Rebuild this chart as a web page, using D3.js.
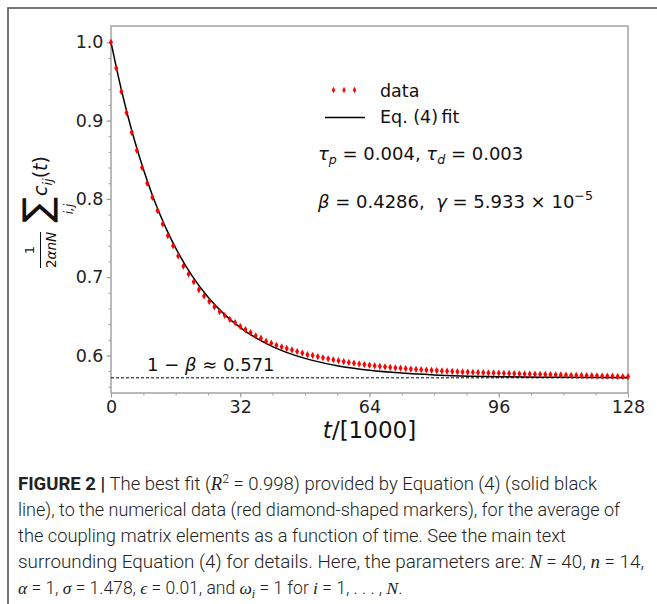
<!DOCTYPE html>
<html>
<head>
<meta charset="utf-8">
<script src="https://cdn.jsdelivr.net/npm/d3@7"></script>
<style>
  body { margin: 0; background: #fff; }
  svg { display: block; }
</style>
</head>
<body>
<div id="figure"></div>
<script>
//time of every data marker in units of 1000 steps
const markerTimes = [
  0, 1.28, 2.56, 3.84, 5.12, 6.4, 7.68, 8.96, 10.24, 11.52,
  12.8, 14.08, 15.36, 16.64, 17.92, 19.2, 20.48, 21.76, 23.04, 24.32,
  25.6, 26.88, 28.16, 29.44, 30.72, 32, 33.28, 34.56, 35.84, 37.12,
  38.4, 39.68, 40.96, 42.24, 43.52, 44.8, 46.08, 47.36, 48.64, 49.92,
  51.2, 52.48, 53.76, 55.04, 56.32, 57.6, 58.88, 60.16, 61.44, 62.72,
  64, 65.28, 66.56, 67.84, 69.12, 70.4, 71.68, 72.96, 74.24, 75.52,
  76.8, 78.08, 79.36, 80.64, 81.92, 83.2, 84.48, 85.76, 87.04, 88.32,
  89.6, 90.88, 92.16, 93.44, 94.72, 96, 97.28, 98.56, 99.84, 101.12,
  102.4, 103.68, 104.96, 106.24, 107.52, 108.8, 110.08, 111.36, 112.64, 113.92,
  115.2, 116.48, 117.76, 119.04, 120.32, 121.6, 122.88, 124.16, 125.44, 126.72,
  128
];
//average coupling (numerical data, red markers)
const markerValues = [
  1.000, 0.967, 0.937, 0.910, 0.885, 0.862, 0.840, 0.820, 0.802, 0.785,
  0.768, 0.753, 0.740, 0.727, 0.714, 0.704, 0.694, 0.684, 0.676, 0.669,
  0.662, 0.656, 0.651, 0.646, 0.642, 0.637, 0.633, 0.629, 0.625, 0.622,
  0.618, 0.6156, 0.613, 0.611, 0.609, 0.607, 0.605, 0.603, 0.601, 0.600,
  0.5985, 0.597, 0.5957, 0.5945, 0.5933, 0.5922, 0.5911, 0.5901, 0.5892, 0.5883,
  0.5875, 0.5867, 0.5861, 0.5854, 0.5848, 0.5842, 0.5837, 0.5832, 0.5826, 0.5823,
  0.5818, 0.5814, 0.5810, 0.5806, 0.5802, 0.5799, 0.5795, 0.5792, 0.5789, 0.5787,
  0.5785, 0.5783, 0.5780, 0.5778, 0.5776, 0.5774, 0.5772, 0.5770, 0.5768, 0.5766,
  0.5764, 0.5762, 0.5761, 0.5758, 0.5757, 0.5755, 0.5753, 0.5751, 0.5750, 0.5747,
  0.5746, 0.5745, 0.5742, 0.5741, 0.5740, 0.5737, 0.5736, 0.5735, 0.5732, 0.5731,
  0.5730
];
//Eq. (4) fit (black line)
const fitTimes = [0, 2, 4, 6, 8, 10, 12, 14, 16, 20, 24, 28, 32, 36, 40, 48, 56, 64, 72, 80, 96, 112, 128];
const fitValues = [1.0, 0.9520, 0.9094, 0.8716, 0.8380, 0.8082, 0.7817, 0.7582, 0.7373, 0.7022,
  0.6746, 0.6528, 0.6356, 0.6220, 0.6113, 0.5962, 0.5869, 0.5810, 0.5774, 0.5751, 0.5728, 0.5720, 0.5716];
//asymptote 1 - beta
const asymptote = 0.5714;

const xTicks = [0, 32, 64, 96, 128];
const yTicks = [0.6, 0.7, 0.8, 0.9, 1.0];

//caption, one entry per line: [text, style]
const captionLines = [
  [['FIGURE 2 |', 'b'], [' The best fit (', ''], ['R', 'i'], ['2', 'sup'], [' = 0.998) provided by Equation (4) (solid black', '']],
  [['line), to the numerical data (red diamond-shaped markers), for the average of', '']],
  [['the coupling matrix elements as a function of time. See the main text', '']],
  [['surrounding Equation (4) for details. Here, the parameters are: ', ''], ['N', 'i'], [' = 40, ', ''], ['n', 'i'], [' = 14,', '']],
  [['α', 'i'], [' = 1, ', ''], ['σ', 'i'], [' = 1.478, ', ''], ['ϵ', 'i'], [' = 0.01, and ', ''], ['ω', 'i'], ['i', 'sub'], [' = 1 for ', ''], ['i', 'i'], [' = 1, . . . , ', ''], ['N', 'i'], ['.', '']]
];
const captionWidths = [579, 602, 548, 626, null];

const svgSize = {width: 657, height: 604};
const plot = {left: 111, right: 628, top: 26, bottom: 393};
const mplFont = '"DejaVu Sans", sans-serif';

const svg = d3.select('#figure').append('svg')
  .attr('width', svgSize.width)
  .attr('height', svgSize.height);

//white background and the outer figure frame
svg.append('rect')
  .attr('width', svgSize.width)
  .attr('height', svgSize.height)
  .attr('fill', 'white');
svg.append('rect')
  .attr('x', 8).attr('y', 8)
  .attr('width', 800).attr('height', 800)
  .attr('fill', 'none')
  .attr('stroke', '#555')
  .attr('stroke-width', 1.6);

//scales
const x = d3.scaleLinear().domain([0, 128]).range([plot.left, plot.right]);
const y = d3.scaleLinear().domain([0.552, 1.0208]).range([plot.bottom, plot.top]);

//axes: minor ticks first, then major ticks with labels
const minorX = svg.append('g')
  .attr('transform', `translate(0,${plot.bottom})`)
  .call(d3.axisBottom(x).tickValues(d3.range(0, 129, 8)).tickSize(2.5).tickFormat(''));
const minorY = svg.append('g')
  .attr('transform', `translate(${plot.left},0)`)
  .call(d3.axisLeft(y).tickValues(d3.range(0.56, 1.01, 0.02)).tickSize(2.5).tickFormat(''));

const xAxis = svg.append('g')
  .attr('transform', `translate(0,${plot.bottom})`)
  .call(d3.axisBottom(x).tickValues(xTicks).tickSize(4.5).tickPadding(3));
const yAxis = svg.append('g')
  .attr('transform', `translate(${plot.left},0)`)
  .call(d3.axisLeft(y).tickValues(yTicks).tickSize(4.5).tickPadding(3).tickFormat(d3.format('.1f')));

[minorX, minorY, xAxis, yAxis].forEach(a => {
  a.select('.domain').remove();
  a.selectAll('line').attr('stroke', '#999').attr('stroke-width', 1);
  a.selectAll('text')
    .style('font-family', mplFont)
    .style('font-size', '17.5px')
    .attr('fill', '#222');
});

//axes frame
svg.append('rect')
  .attr('x', plot.left).attr('y', plot.top)
  .attr('width', plot.right - plot.left)
  .attr('height', plot.bottom - plot.top)
  .attr('fill', 'none')
  .attr('stroke', '#a8a8a8')
  .attr('stroke-width', 1.6);

//dashed asymptote
svg.append('line')
  .attr('x1', x(0)).attr('x2', x(128))
  .attr('y1', y(asymptote)).attr('y2', y(asymptote))
  .attr('stroke', 'black')
  .attr('stroke-width', 1)
  .attr('stroke-dasharray', '3,2');

//fit line
const fitLine = d3.line()
  .x((d, i) => x(fitTimes[i]))
  .y(d => y(d))
  .curve(d3.curveMonotoneX);
svg.append('path')
  .datum(fitValues)
  .attr('d', fitLine)
  .attr('fill', 'none')
  .attr('stroke', 'black')
  .attr('stroke-width', 1.5);

//thin diamond marker
const diamond = (w, h) => `M0,${-h}L${w},0L0,${h}L${-w},0Z`;

svg.append('g')
  .selectAll('path')
  .data(markerValues)
  .join('path')
  .attr('d', diamond(2, 3.6))
  .attr('transform', (d, i) => `translate(${x(markerTimes[i])},${y(d)})`)
  .attr('fill', 'red');

//legend
const legend = svg.append('g');
legend.selectAll('path')
  .data([333.5, 344, 354.5])
  .join('path')
  .attr('d', diamond(1.7, 3.2))
  .attr('transform', d => `translate(${d},90)`)
  .attr('fill', 'red');
legend.append('line')
  .attr('x1', 325).attr('x2', 365)
  .attr('y1', 117.5).attr('y2', 117.5)
  .attr('stroke', 'black')
  .attr('stroke-width', 1.3);
legend.append('text')
  .attr('x', 380).attr('y', 97)
  .style('font-family', mplFont).style('font-size', '17.5px')
  .attr('fill', '#111')
  .text('data');
legend.append('text')
  .attr('x', 380).attr('y', 123)
  .style('font-family', mplFont).style('font-size', '17.5px')
  .attr('fill', '#111')
  .text('Eq. (4)\u2009fit');

//helper for mathtext-ish labels
function mathText(parent, xPos, yPos, parts, size) {
  const t = parent.append('text')
    .attr('x', xPos).attr('y', yPos)
    .style('font-family', mplFont)
    .style('font-size', size + 'px')
    .style('white-space', 'pre')
    .attr('fill', '#111');
  parts.forEach(p => {
    const s = t.append('tspan').text(p[0]);
    if (p[1] === 'i') s.style('font-style', 'italic');
    if (p[1] === 'sub') s.style('font-style', 'italic').style('font-size', (size * 0.7) + 'px').attr('dy', 4);
    if (p[1] === 'up') s.attr('dy', -4);
    if (p[1] === 'sup') s.style('font-size', (size * 0.7) + 'px').attr('dy', -8);
  });
  return t;
}

mathText(svg, 318, 160, [
  ['τ', 'i'], ['p', 'sub'], [' = 0.004, ', 'up'], ['τ', 'i'], ['d', 'sub'], [' = 0.003', 'up']
], 18);
mathText(svg, 318, 207.5, [
  ['β', 'i'], [' = 0.4286,\u00a0\u00a0', ''], ['γ', 'i'], [' = 5.933 × 10', ''], ['−5', 'sup']
], 18);
mathText(svg, 147, 370.5, [
  ['1 − ', ''], ['β', 'i'], [' ≈ 0.571', '']
], 18);

//x axis title
const xTitle = svg.append('text')
  .attr('x', (plot.left + plot.right) / 2).attr('y', 438)
  .attr('text-anchor', 'middle')
  .style('font-family', mplFont).style('font-size', '23px')
  .attr('fill', '#111');
xTitle.append('tspan').style('font-style', 'italic').text('t');
xTitle.append('tspan').text('/[1000]');

//y axis title, rotated: local x runs up the page, local y is the page x
const yTitle = svg.append('g').attr('transform', 'translate(0,210) rotate(-90)');
yTitle.append('text')
  .attr('x', -40).attr('y', 34)
  .attr('text-anchor', 'middle')
  .style('font-family', mplFont).style('font-size', '13px')
  .attr('fill', '#111')
  .text('1');
yTitle.append('line')
  .attr('x1', -58).attr('x2', -22)
  .attr('y1', 40.5).attr('y2', 40.5)
  .attr('stroke', '#111').attr('stroke-width', 1);
const denom = yTitle.append('text')
  .attr('x', -40).attr('y', 56)
  .attr('text-anchor', 'middle')
  .style('font-family', mplFont).style('font-size', '13.5px')
  .attr('fill', '#111');
denom.append('tspan').text('2');
denom.append('tspan').style('font-style', 'italic').text('αnN');
yTitle.append('text')
  .attr('x', 0).attr('y', 50)
  .attr('text-anchor', 'middle')
  .style('font-family', mplFont).style('font-size', '38px')
  .attr('fill', '#111')
  .text('∑');
yTitle.append('text')
  .attr('x', 1).attr('y', 73)
  .attr('text-anchor', 'middle')
  .style('font-family', mplFont).style('font-size', '12px').style('font-style', 'italic')
  .attr('fill', '#111')
  .text('i,j');
const cij = yTitle.append('text')
  .attr('x', 14).attr('y', 47)
  .style('font-family', mplFont).style('font-size', '19px')
  .attr('fill', '#111');
cij.append('tspan').style('font-style', 'italic').text('c');
cij.append('tspan').style('font-style', 'italic').style('font-size', '13px').attr('dy', 5).text('ij');
cij.append('tspan').attr('dy', -5).text('(');
cij.append('tspan').style('font-style', 'italic').text('t');
cij.append('tspan').text(')');

//caption
const capFont = 'Roboto, "Liberation Sans", sans-serif';
captionLines.forEach((line, li) => {
  const t = svg.append('text')
    .attr('x', 18).attr('y', 490 + li * 26)
    .style('font-family', capFont)
    .style('font-size', li === 4 ? '17.5px' : '18px')
    .style('font-weight', 300)
    .attr('fill', '#222');
  if (captionWidths[li]) {
    t.attr('textLength', captionWidths[li]).attr('lengthAdjust', 'spacingAndGlyphs');
  }
  line.forEach((p, pi) => {
    const s = t.append('tspan').text(p[0]);
    const prev = pi > 0 ? line[pi - 1][1] : '';
    if (p[1] === 'b') s.style('font-weight', 700);
    if (p[1] === 'i') s.style('font-family', '"Liberation Serif", serif').style('font-style', 'italic');
    if (p[1] === 'sup') s.style('font-size', '12px').attr('dy', -7);
    if (p[1] === 'sub') s.style('font-family', '"Liberation Serif", serif').style('font-style', 'italic').style('font-size', '12px').attr('dy', 4);
    if (prev === 'sup') s.attr('dy', 7);
    if (prev === 'sub') s.attr('dy', -4);
  });
});
</script>
</body>
</html>
